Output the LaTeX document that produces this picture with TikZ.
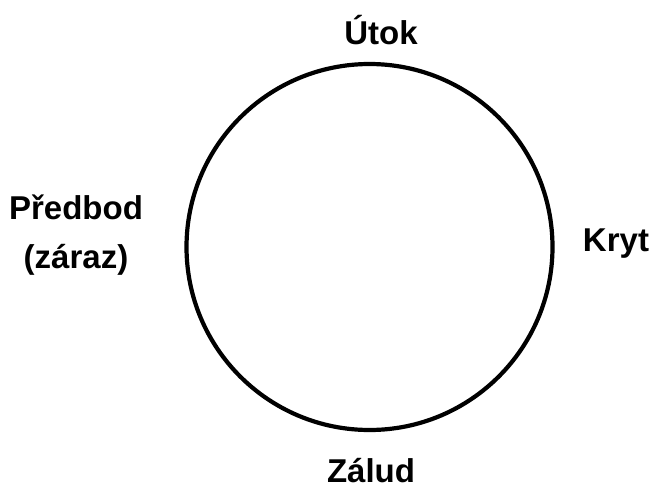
\documentclass[tikz,border=0pt]{standalone}
\usepackage{fontspec}
\setmainfont{Liberation Sans}
\begin{document}
\begin{tikzpicture}[x=1pt,y=-1pt,
  lbl/.style={font=\bfseries\fontsize{33}{49}\selectfont, anchor=base, inner sep=0pt, align=center},
  ring/.style={draw=black, line width=4.2pt}]
\useasboundingbox (0,0) rectangle (653,490);
\node[ring, circle, minimum size=366pt, inner sep=0pt] (c) at (369.5,247) {};
\node[lbl] (utok) at (381,44) {Útok};
\node[lbl] (kryt) at (616,251) {Kryt};
\node[lbl] (zalud) at (371,482) {Zálud};
% base anchor of a two-line node sits on the last line
\node[lbl] (predbod) at (76,268) {Předbod\\(záraz)};
\end{tikzpicture}
\end{document}
